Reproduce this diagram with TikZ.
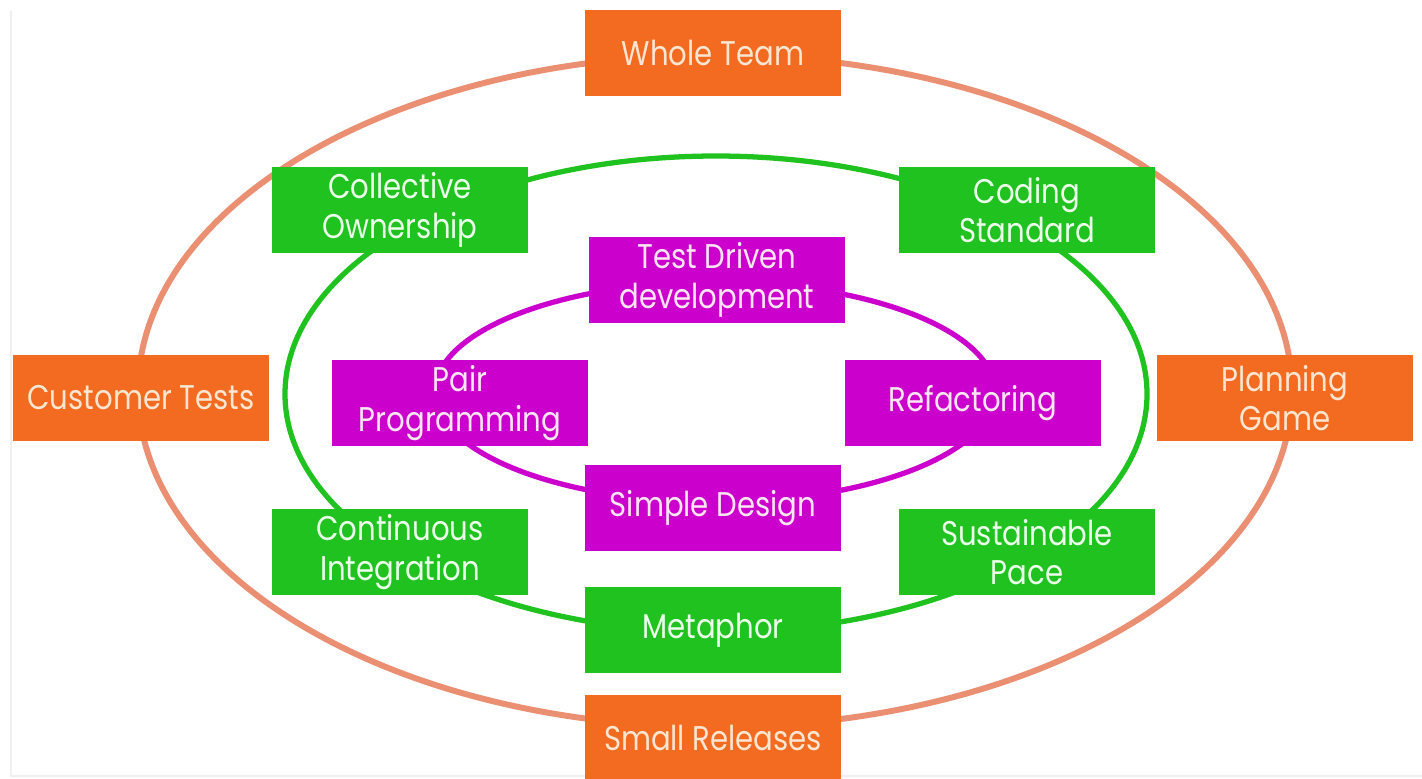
\documentclass[tikz,border=0pt]{standalone}
\usepackage{fontspec}
\setmainfont{Poppins}[FakeStretch = 0.85]
\usepackage{tikz}
\definecolor{porange}{rgb}{0.95, 0.42, 0.13}
\definecolor{psalmon}{rgb}{0.92, 0.56, 0.45}
\definecolor{pgreen}{rgb}{0.12, 0.76, 0.12}
\definecolor{pmagenta}{rgb}{0.80, 0, 0.80}
\definecolor{ptext}{rgb}{0.99, 0.90, 0.82}
\tikzset{box/.style = {rectangle, inner sep = 0, minimum width = 5.14cm, minimum height = 1.72cm,
    align = center, font = \fontsize{19.5pt}{22.5pt}\selectfont}}
\tikzset{obox/.style = {box, fill = porange, text = ptext}}
\tikzset{gbox/.style = {box, fill = pgreen, text = green!8!white}}
\tikzset{mbox/.style = {box, fill = pmagenta, text = magenta!10!white}}

\begin{document}
\begin{tikzpicture}[x = 0.02cm, y = -0.02cm]
      \useasboundingbox (0, 0) rectangle (1422, 778);
      \draw [gray!12, line width = 1pt] (11, 11) -- (11, 776) -- (1422, 776);

      \draw [psalmon, line width = 3.4pt] (715, 391) ellipse [x radius = 577, y radius = 336];
      \draw [pgreen, line width = 3pt] (716, 394) ellipse [x radius = 431, y radius = 238];
      \draw [pmagenta, line width = 3pt] (715, 392) ellipse [x radius = 280, y radius = 110];

      \node [obox] (team) at (713, 53) {Whole Team};
      \node [obox] (tests) at (141, 398) {Customer Tests};
      \node [obox] (game) at (1285, 398) {Planning\\Game};
      \node [obox] (releases) at (713, 738) {Small Releases};

      \node [gbox] (ownership) at (400, 210) {Collective\\Ownership};
      \node [gbox] (standard) at (1027, 210) {Coding\\Standard};
      \node [gbox] (integration) at (400, 552) {Continuous\\Integration};
      \node [gbox] (pace) at (1027, 552) {Sustainable\\Pace};
      \node [gbox] (metaphor) at (713, 630) {Metaphor};

      \node [mbox] (tdd) at (717, 280) {Test Driven\\development};
      \node [mbox] (pair) at (460, 403) {Pair\\Programming};
      \node [mbox] (refactor) at (973, 403) {Refactoring};
      \node [mbox] (design) at (713, 508) {Simple Design};
    \end{tikzpicture}
\end{document}
